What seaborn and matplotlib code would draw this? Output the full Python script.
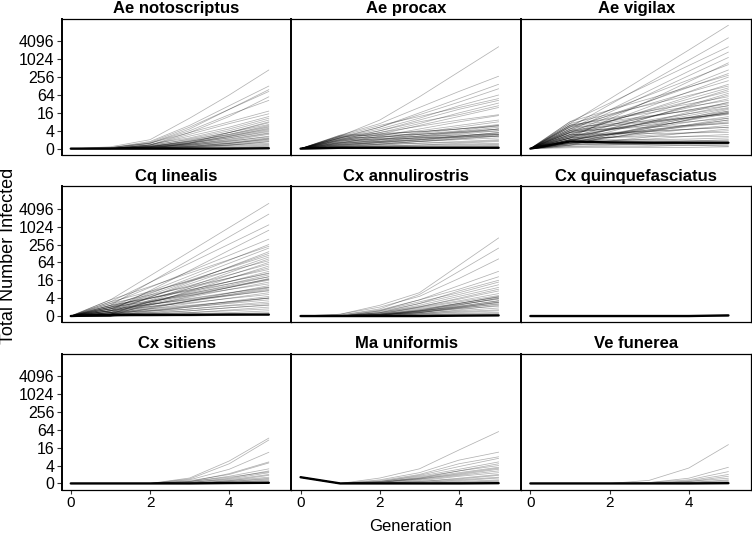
import matplotlib
matplotlib.use("Agg")
import matplotlib.pyplot as plt
import pandas as pd
import seaborn as sns
from matplotlib.ticker import FixedLocator, FixedFormatter, NullLocator

# ---------------- data ----------------
GENERATIONS = [0, 1, 2, 3, 4, 5]
SPECIES = ["Ae notoscriptus", "Ae procax", "Ae vigilax",
           "Cq linealis", "Cx annulirostris", "Cx quinquefasciatus",
           "Cx sitiens", "Ma uniformis", "Ve funerea"]
Y_TICKS = [1, 4, 16, 64, 256, 1024, 4096]
Y_TICK_LABELS = ["0", "4", "16", "64", "256", "1024", "4096"]
X_TICKS = [0, 2, 4]

# simulated trajectories (total number infected per generation)
AE_NOTOSCRIPTUS = [
    [1, 1.15, 2, 10.6, 64, 446], [1, 1.07, 1.74, 6.06, 27.9, 128], [1, 1.07, 1.52, 4.59, 21.1, 97],
    [1, 1, 1.52, 4, 13.9, 42.2], [1, 1.07, 1.52, 3.48, 8, 18.4], [1, 1, 1.32, 3.03, 6.96, 14.9],
    [1, 1, 1.32, 2.64, 5.28, 12.1], [1, 1, 1.41, 2.3, 4.59, 10.6], [1, 1, 1.23, 2.14, 4, 9.19],
    [1, 1, 1.32, 2, 3.48, 7.46], [1, 1, 1.15, 1.87, 3.48, 6.5], [1, 1, 1.15, 1.74, 3.03, 6.06],
    [1, 1, 1.23, 1.74, 2.83, 5.28], [1, 1, 1.15, 1.62, 2.64, 4.59], [1, 1, 1.15, 1.52, 2.3, 4],
    [1, 1, 1.07, 1.52, 2.3, 3.73], [1, 1, 1.07, 1.41, 2, 3.25], [1, 1, 1.15, 1.41, 1.87, 3.03],
    [1, 1, 1, 1.32, 1.74, 2.64], [1, 1, 1.07, 1.32, 1.62, 2.3], [1, 1, 1, 1.23, 1.52, 2],
    [1, 1, 1, 1.15, 1.41, 1.87], [1, 1, 1.07, 1.15, 1.32, 1.74], [1, 1, 1, 1.15, 1.32, 1.52],
    [1, 1, 1, 1.07, 1.23, 1.41], [1, 1, 1, 1.07, 1.15, 1.32], [1, 1, 1, 1, 1.07, 1.23],
    [1, 1, 1, 1, 1.07, 1.15], [1, 1, 1, 1, 1, 1.07], [1, 1, 1, 1.52, 3.48, 8],
    [1, 1, 1.32, 3.48, 12.1, 55.7], [1, 1.07, 1.62, 5.28, 21.1, 84.4],
    [1, 1, 1.1, 1.3, 1.8, 2.5], [1, 1, 1.2, 1.6, 2.5, 4.3], [1, 1, 1.05, 1.2, 1.5, 2.1],
    [1, 1, 1.1, 1.5, 2.6, 4.9], [1, 1, 1, 1.1, 1.3, 1.7], [1, 1, 1.2, 1.8, 3, 5.6],
    [1, 1, 1.1, 1.4, 2.1, 3.4], [1, 1, 1, 1.2, 1.5, 2.2],
]
AE_PROCAX = [
    [1, 2.64, 9.19, 55.7, 388, 2700], [1, 2.83, 6.96, 24.3, 84.4, 274], [1, 2.3, 5.28, 13.9, 36.8, 104],
    [1, 2.64, 6.06, 12.1, 24.3, 48.5], [1, 2, 4, 9.19, 21.1, 42.2], [1, 2.3, 4, 8, 13.9, 27.9],
    [1, 1.74, 3.03, 6.06, 12.1, 24.3], [1, 2.14, 3.48, 5.66, 9.19, 13.9], [1, 1.52, 2.64, 4.59, 8, 13],
    [1, 2, 2.83, 4, 6.06, 9.19], [1, 1.62, 2.3, 3.48, 5.28, 8], [1, 1.87, 2.46, 3.25, 4.59, 6.5],
    [1, 1.41, 2, 3.03, 4, 6.06], [1, 1.74, 2.14, 2.64, 3.73, 5.28], [1, 1.32, 1.74, 2.46, 3.25, 4.59],
    [1, 1.52, 1.87, 2.3, 3.03, 4], [1, 1.23, 1.62, 2, 2.64, 3.48], [1, 1.62, 1.74, 2, 2.46, 3.03],
    [1, 1.15, 1.41, 1.74, 2.14, 2.64], [1, 1.41, 1.52, 1.74, 2, 2.3], [1, 1.15, 1.32, 1.52, 1.74, 2],
    [1, 1.32, 1.41, 1.52, 1.62, 1.87], [1, 1.07, 1.23, 1.32, 1.52, 1.74], [1, 1.23, 1.23, 1.32, 1.41, 1.52],
    [1, 1.07, 1.15, 1.23, 1.32, 1.41], [1, 1.15, 1.15, 1.15, 1.23, 1.32], [1, 1, 1.07, 1.07, 1.15, 1.23],
    [1, 1.07, 1.07, 1.07, 1.07, 1.15], [1, 1, 1, 1, 1.07, 1.07], [1, 2.3, 4.59, 10.6, 27.9, 64],
    [1, 1.87, 3.48, 6.96, 16, 34.3], [1, 2.46, 5.28, 16, 48.5, 147],
    [1, 2.3, 2.46, 2.64, 2.83, 3.03], [1, 1.87, 2, 2.3, 2.64, 3.25], [1, 2.64, 2.83, 3.03, 3.48, 4],
    [1, 1.52, 1.74, 2.14, 2.64, 3.48], [1, 2.14, 2.46, 3.03, 3.73, 4.59], [1, 1.32, 1.62, 2, 2.46, 3.03],
    [1, 2.83, 3.25, 3.73, 4.59, 5.66], [1, 1.62, 2, 2.64, 3.48, 4.59], [1, 1.23, 1.41, 1.74, 2.14, 2.64],
    [1, 2, 2.14, 2.3, 2.46, 2.64], [1, 1.41, 1.62, 1.87, 2.3, 2.83], [1, 2.46, 3.03, 3.73, 4.59, 6.06],
]
AE_VIGILAX = [
    [1, 7, 47, 316, 2100, 14300], [1, 5.3, 30, 169, 955, 5400], [1, 8, 34, 147, 630, 2700],
    [1, 4, 16.7, 69, 286, 1176], [1, 6.1, 19.7, 64, 208, 676], [1, 3.5, 11.8, 39.4, 133, 446],
    [1, 4.6, 13.5, 39.4, 116, 338], [1, 2.64, 8.3, 26, 82, 256], [1, 5.3, 13, 32, 79, 194],
    [1, 3, 8, 21, 56, 147], [1, 7, 14.5, 30, 62, 128], [1, 2.3, 5.9, 15, 38, 97],
    [1, 4, 8.6, 18.4, 39, 84], [1, 2, 4.8, 11.3, 27, 64], [1, 6.1, 10.6, 18.4, 32, 56],
    [1, 3, 6.1, 12, 24, 48], [1, 1.74, 3.7, 8, 17, 37], [1, 4.6, 7.5, 12, 20, 32],
    [1, 2.3, 4.3, 8, 15, 28], [1, 3.5, 5.7, 9.2, 15, 24], [1, 1.5, 2.9, 5.7, 11, 21],
    [1, 2.6, 4.2, 6.5, 10.3, 16], [1, 5.3, 6.7, 8.6, 11, 14], [1, 2, 3.1, 4.9, 7.8, 12],
    [1, 3.5, 4.6, 6.1, 8, 10.6], [1, 1.5, 2.4, 3.7, 5.9, 9.2], [1, 2.3, 3.1, 4.3, 5.9, 8],
    [1, 4, 4.6, 5.3, 6.1, 7], [1, 1.74, 2.4, 3.25, 4.5, 6.1], [1, 2.6, 3.1, 3.7, 4.5, 5.3],
    [1, 1.3, 1.8, 2.5, 3.4, 4.6], [1, 2, 2.4, 2.8, 3.4, 4], [1, 3, 3.1, 3.2, 3.4, 3.5],
    [1, 1.5, 1.8, 2.1, 2.6, 3], [1, 2.3, 2.4, 2.5, 2.6, 2.6], [1, 1.74, 1.9, 2, 2.1, 2.3],
    [1, 1.3, 1.5, 1.6, 1.8, 2], [1, 2, 2, 1.9, 1.9, 1.9], [1, 1.6, 1.7, 1.7, 1.7, 1.74],
    [1, 1.2, 1.3, 1.4, 1.5, 1.6], [1, 1.9, 1.8, 1.7, 1.6, 1.5], [1, 1.4, 1.4, 1.4, 1.4, 1.4],
    [1, 1.15, 1.2, 1.2, 1.3, 1.3], [1, 1.5, 1.4, 1.3, 1.3, 1.2], [1, 1.07, 1.1, 1.1, 1.1, 1.15],
    [1, 8, 20, 48, 120, 294], [1, 3.5, 8.3, 20, 47, 111], [1, 1.74, 4.5, 11.3, 29, 73],
    [1, 6.1, 9.8, 16, 26, 42], [1, 1.3, 2.6, 4.9, 9.6, 18.4], [1, 4.6, 20, 90, 405, 1783],
    [1, 2.3, 9.8, 42, 181, 776],
    [1, 2.8, 4.5, 7.2, 11.5, 18.4], [1, 1.9, 3.2, 5.4, 9, 15], [1, 3.3, 4.9, 7.3, 10.9, 16.2],
    [1, 2.2, 3, 4, 5.5, 7.4], [1, 4.2, 5.8, 8, 11, 15.2], [1, 1.4, 2.3, 3.9, 6.4, 10.6],
    [1, 2.5, 4.3, 7.5, 13, 22.6], [1, 3.7, 6.5, 11.5, 20, 35], [1, 1.6, 2.9, 5.2, 9.4, 17],
    [1, 2.9, 3.4, 3.9, 4.5, 5.2], [1, 5.7, 8.5, 12.6, 18.7, 27.9], [1, 2, 2.9, 4.3, 6.3, 9.2],
]
CQ_LINEALIS = [
    [1, 3.5, 22.6, 147, 955, 6200], [1, 2.3, 13.5, 79, 465, 2700], [1, 3, 13.5, 60, 265, 1176],
    [1, 1.5, 7.2, 34, 164, 776], [1, 2.64, 9.2, 32, 111, 388], [1, 2, 6.7, 22.6, 76, 256],
    [1, 3.5, 9.8, 28, 79, 223], [1, 1.74, 5.7, 18.4, 60, 194], [1, 1.3, 4.3, 13.9, 45, 147],
    [1, 2.3, 6.1, 16, 42, 111], [1, 1.5, 4.3, 12.1, 34, 97], [1, 3, 6.7, 15, 33, 73],
    [1, 1.15, 3.1, 8.6, 23.5, 64], [1, 2, 4.6, 10.6, 24.3, 56], [1, 1.74, 3.9, 8.6, 19, 42],
    [1, 2.64, 5.1, 9.8, 19, 37], [1, 1.3, 2.9, 6.5, 14.5, 32], [1, 1.5, 3, 6.1, 12.1, 24.3],
    [1, 2.3, 4, 7, 12.1, 21], [1, 1.15, 2.3, 4.6, 9.2, 18.4], [1, 1.74, 3, 5.3, 9.2, 16],
    [1, 1.3, 2.4, 4.3, 7.8, 13.9], [1, 2, 3.1, 4.9, 7.8, 12.1], [1, 1, 1.8, 3.25, 5.9, 10.6],
    [1, 1.5, 2.4, 3.7, 5.9, 9.2], [1, 1.3, 2.1, 3.25, 5.1, 8], [1, 1.74, 2.5, 3.5, 4.9, 7],
    [1, 1.15, 1.74, 2.64, 4, 6.1], [1, 1.5, 2.1, 2.8, 3.9, 5.3], [1, 1, 1.5, 2.1, 3.1, 4.6],
    [1, 1.3, 1.74, 2.3, 3, 4], [1, 1.15, 1.5, 2, 2.64, 3.5], [1, 1, 1.3, 1.74, 2.3, 3],
    [1, 1.3, 1.5, 1.7, 2.2, 2.64], [1, 1.15, 1.3, 1.5, 1.9, 2.3], [1, 1, 1.15, 1.3, 1.6, 2],
    [1, 1.15, 1.2, 1.3, 1.5, 1.74], [1, 1, 1.07, 1.2, 1.3, 1.5], [1, 1, 1.05, 1.1, 1.2, 1.3],
    [1, 1, 1, 1.05, 1.07, 1.15], [1, 1, 1, 1, 1.05, 1.07], [1, 1.74, 5.1, 15, 44, 128],
    [1, 1, 2.64, 7, 18.4, 48.5], [1, 2, 3.9, 7.5, 14.5, 28], [1, 1.15, 3.4, 9.8, 29, 84],
    [1, 1.3, 2, 3.1, 4.8, 7.4], [1, 1.6, 2.5, 3.9, 6.1, 9.5], [1, 1, 1.4, 2, 2.8, 4],
    [1, 1.9, 3.3, 5.7, 10, 17.4], [1, 1.15, 1.9, 3.2, 5.3, 8.8], [1, 1.4, 2.6, 4.9, 9.2, 17.1],
    [1, 1.2, 1.6, 2.2, 3, 4.1], [1, 2.2, 4.1, 7.7, 14.4, 27], [1, 1, 1.2, 1.5, 1.9, 2.4],
    [1, 1.5, 2.9, 5.6, 10.8, 21],
]
CX_ANNULIROSTRIS = [
    [1, 1.15, 2.3, 6.1, 51, 427], [1, 1.07, 1.74, 5.3, 32, 194], [1, 1.15, 2, 4.6, 18.4, 84],
    [1, 1, 1.5, 3.5, 10.6, 32], [1, 1.07, 1.6, 3.5, 8, 21], [1, 1, 1.5, 3, 6.1, 13.9],
    [1, 1, 1.41, 2.64, 5.3, 11.3], [1, 1, 1.3, 2.3, 4.6, 9.2], [1, 1, 1.3, 2.1, 3.7, 7],
    [1, 1, 1.23, 2, 3.25, 5.7], [1, 1, 1.23, 1.87, 3, 4.9], [1, 1, 1.15, 1.74, 2.64, 4.3],
    [1, 1, 1.15, 1.62, 2.46, 3.7], [1, 1, 1.15, 1.5, 2.14, 3.25], [1, 1, 1.07, 1.5, 2, 2.83],
    [1, 1, 1.07, 1.41, 1.87, 2.46], [1, 1, 1.07, 1.32, 1.74, 2.14], [1, 1, 1, 1.23, 1.5, 1.87],
    [1, 1, 1, 1.15, 1.41, 1.62], [1, 1, 1, 1.15, 1.32, 1.5], [1, 1, 1, 1.07, 1.23, 1.32],
    [1, 1, 1, 1, 1.07, 1.15], [1, 1, 1, 1.07, 1.15, 1.23], [1, 1, 1.15, 2, 4, 8],
    [1, 1, 1.3, 2.64, 7, 16], [1, 1, 1.15, 1.5, 2.64, 4.6], [1, 1, 1, 1.3, 2, 3],
    [1, 1, 1.07, 1.41, 2.3, 4],
    [1, 1, 1.1, 1.4, 2.1, 3.3], [1, 1, 1.05, 1.3, 1.8, 2.6], [1, 1, 1.1, 1.6, 2.7, 4.4],
    [1, 1, 1, 1.2, 1.6, 2.3], [1, 1, 1.1, 1.3, 1.9, 2.9], [1, 1, 1.05, 1.5, 2.4, 3.9],
]
CX_QUINQUEFASCIATUS = [
    [1, 1, 1, 1, 1, 1], [1, 1, 1, 1, 1.03, 1.07],
]
CX_SITIENS = [
    [1, 1, 1, 1.52, 5.7, 33.7], [1, 1, 1, 1.41, 4.6, 29], [1, 1, 1, 1.32, 3, 11.2],
    [1, 1, 1, 1.15, 2.14, 5.3], [1, 1, 1, 1.23, 2, 4.9], [1, 1, 1, 1.15, 1.74, 3.1],
    [1, 1, 1, 1.07, 1.5, 2.64], [1, 1, 1, 1.07, 1.41, 2.3], [1, 1, 1, 1.07, 1.32, 2],
    [1, 1, 1, 1, 1.23, 1.87], [1, 1, 1, 1, 1.23, 1.62], [1, 1, 1, 1, 1.15, 1.5],
    [1, 1, 1, 1, 1.15, 1.41], [1, 1, 1, 1, 1.07, 1.32], [1, 1, 1, 1, 1.07, 1.23],
    [1, 1, 1, 1, 1, 1.15], [1, 1, 1, 1, 1, 1.07], [1, 1, 1, 1.15, 1.62, 2.46],
]
MA_UNIFORMIS = [
    [1.62, 1, 1.52, 3.1, 13.4, 55.7], [1.62, 1, 1.32, 2.3, 6.1, 11.3], [1.62, 1, 1.23, 2, 4.6, 7.9],
    [1.62, 1, 1.15, 1.87, 3.7, 7], [1.62, 1, 1.15, 1.74, 3, 5.3], [1.62, 1, 1.07, 1.62, 2.64, 4],
    [1.62, 1, 1.07, 1.5, 2.3, 3.5], [1.62, 1, 1.07, 1.41, 2, 3], [1.62, 1, 1, 1.32, 1.87, 2.64],
    [1.62, 1, 1, 1.23, 1.74, 2.3], [1.62, 1, 1, 1.15, 1.5, 2], [1.62, 1, 1, 1.15, 1.41, 1.87],
    [1.62, 1, 1, 1.07, 1.32, 1.62], [1.62, 1, 1, 1.07, 1.23, 1.52], [1.62, 1, 1, 1, 1.15, 1.32],
    [1.62, 1, 1, 1, 1.07, 1.23], [1.62, 1, 1, 1, 1.07, 1.15], [1.62, 1, 1, 1, 1, 1.07],
    [1.62, 1, 1.15, 1.5, 2.64, 4.6], [1.62, 1, 1.07, 1.41, 2.14, 3.25],
]
VE_FUNEREA = [
    [1, 1, 1, 1.27, 3.3, 20.3], [1, 1, 1, 1.07, 1.5, 3.5], [1, 1, 1, 1.07, 1.32, 2.5],
    [1, 1, 1, 1, 1.23, 2], [1, 1, 1, 1, 1.15, 1.74], [1, 1, 1, 1, 1.15, 1.5],
    [1, 1, 1, 1, 1.07, 1.32], [1, 1, 1, 1, 1.07, 1.23], [1, 1, 1, 1, 1, 1.15],
    [1, 1, 1, 1, 1, 1.07],
]

# summary (median) trajectory per species
MEDIAN_AE_NOTOSCRIPTUS = [1, 1, 1, 1, 1, 1.03]
MEDIAN_AE_PROCAX = [1, 1.07, 1.07, 1.07, 1.07, 1.07]
MEDIAN_AE_VIGILAX = [1, 1.74, 1.62, 1.58, 1.58, 1.58]
MEDIAN_CQ_LINEALIS = [1, 1.1, 1.1, 1.1, 1.12, 1.12]
MEDIAN_CX_ANNULIROSTRIS = [1, 1, 1, 1, 1.03, 1.05]
MEDIAN_CX_QUINQUEFASCIATUS = [1, 1, 1, 1, 1, 1.05]
MEDIAN_CX_SITIENS = [1, 1, 1, 1, 1.03, 1.05]
MEDIAN_MA_UNIFORMIS = [1.62, 1, 1, 1, 1, 1.02]
MEDIAN_VE_FUNEREA = [1, 1, 1, 1, 1, 1.02]

RUNS = [AE_NOTOSCRIPTUS, AE_PROCAX, AE_VIGILAX, CQ_LINEALIS, CX_ANNULIROSTRIS,
        CX_QUINQUEFASCIATUS, CX_SITIENS, MA_UNIFORMIS, VE_FUNEREA]
MEDIANS = [MEDIAN_AE_NOTOSCRIPTUS, MEDIAN_AE_PROCAX, MEDIAN_AE_VIGILAX, MEDIAN_CQ_LINEALIS,
           MEDIAN_CX_ANNULIROSTRIS, MEDIAN_CX_QUINQUEFASCIATUS, MEDIAN_CX_SITIENS,
           MEDIAN_MA_UNIFORMIS, MEDIAN_VE_FUNEREA]

# ---------------- tidy tables ----------------
rows = []
for sp, runs in zip(SPECIES, RUNS):
    for r, traj in enumerate(runs):
        for g, v in zip(GENERATIONS, traj):
            rows.append((sp, r, g, v))
runs_df = pd.DataFrame(rows, columns=["species", "run", "generation", "infected"])
med_rows = []
for sp, med in zip(SPECIES, MEDIANS):
    for g, v in zip(GENERATIONS, med):
        med_rows.append((sp, g, v))
med_df = pd.DataFrame(med_rows, columns=["species", "generation", "infected"])

# ---------------- plot ----------------
sns.set_theme(style="white")
plt.rcParams["font.family"] = ["Liberation Sans", "DejaVu Sans"]

fig, axes = plt.subplots(3, 3, figsize=(7.52, 5.34), dpi=100, sharex=True, sharey=True)
fig.subplots_adjust(left=0.082, right=0.9987, top=0.9644, bottom=0.083,
                    wspace=0.0, hspace=0.232)

for i, sp in enumerate(SPECIES):
    ax = axes.flat[i]
    sub = runs_df[runs_df["species"] == sp]
    sns.lineplot(data=sub, x="generation", y="infected", units="run", estimator=None,
                 color="black", alpha=0.3, linewidth=0.55, ax=ax, legend=False)
    sns.lineplot(data=med_df[med_df["species"] == sp], x="generation", y="infected",
                 color="black", linewidth=1.7, ax=ax, legend=False)
    ax.set_yscale("log", base=4)
    ax.set_ylim(0.616, 23170)
    ax.set_xlim(-0.23, 5.57)
    ax.yaxis.set_major_locator(FixedLocator(Y_TICKS))
    ax.yaxis.set_major_formatter(FixedFormatter(Y_TICK_LABELS))
    ax.yaxis.set_minor_locator(NullLocator())
    ax.xaxis.set_major_locator(FixedLocator(X_TICKS))
    ax.set_xlabel("")
    ax.set_ylabel("")
    ax.set_title(sp, fontsize=12, fontweight="bold", pad=4, color="black")
    for side, sp_ in ax.spines.items():
        sp_.set_visible(True)
        sp_.set_color("black")
        sp_.set_linewidth(0.9)
    ax.spines["left"].set_linewidth(1.4)
    row, col = divmod(i, 3)
    ax.tick_params(axis="y", which="major", length=3.5, width=0.8, color="#333333",
                   labelsize=11.5, pad=1.5, labelcolor="black",
                   left=(col == 0), labelleft=(col == 0))
    ax.tick_params(axis="x", which="major", length=3, width=0.8, color="#333333",
                   labelsize=11, pad=1.5, labelcolor="black",
                   bottom=(row == 2), labelbottom=(row == 2))
    ax.grid(False)

fig.text(0.011, 0.52, "Total Number Infected", rotation=90, ha="center", va="center",
         fontsize=13, color="black")
fig.text(0.546, 0.0, "Generation", ha="center", va="bottom", fontsize=12, color="black")

fig.savefig("out.png", dpi=100)
